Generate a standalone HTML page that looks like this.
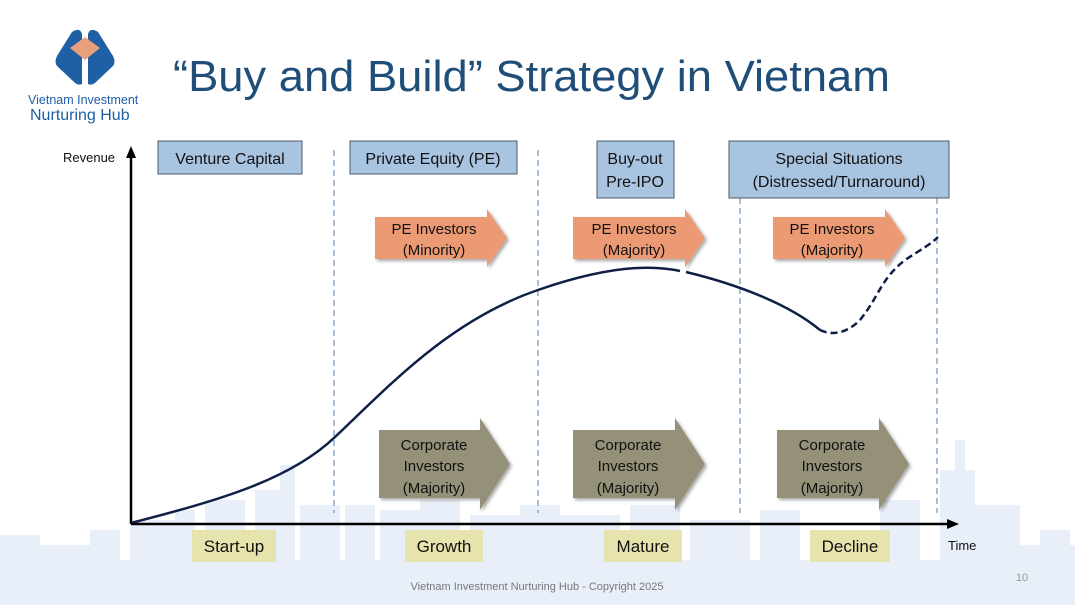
<!DOCTYPE html>
<html><head><meta charset="utf-8"><style>
body{margin:0;width:1075px;height:605px;overflow:hidden;background:#fff;font-family:"Liberation Sans",sans-serif}
svg text{font-family:"Liberation Sans",sans-serif}
</style></head><body>
<svg width="1075" height="605" viewBox="0 0 1075 605" xmlns="http://www.w3.org/2000/svg">
<defs>
<filter id="sh" x="-10%" y="-10%" width="130%" height="130%"><feDropShadow dx="2" dy="2" stdDeviation="1.5" flood-color="#000" flood-opacity="0.35"/></filter>
</defs>
<!-- skyline -->
<g fill="#e8eff8">
<rect x="0" y="560" width="1075" height="45"/>
<rect x="0" y="535" width="40" height="30"/><rect x="40" y="545" width="50" height="20"/>
<rect x="90" y="530" width="30" height="35"/><rect x="130" y="520" width="45" height="45"/>
<rect x="175" y="510" width="20" height="55"/><rect x="205" y="500" width="40" height="65"/>
<rect x="255" y="490" width="35" height="75"/><rect x="280" y="465" width="15" height="100"/>
<rect x="300" y="505" width="40" height="60"/><rect x="345" y="505" width="30" height="60"/>
<rect x="380" y="510" width="40" height="55"/><rect x="420" y="500" width="40" height="65"/>
<rect x="470" y="515" width="50" height="50"/><rect x="520" y="505" width="40" height="60"/>
<rect x="560" y="515" width="60" height="50"/><rect x="630" y="505" width="50" height="60"/>
<rect x="690" y="520" width="60" height="45"/><rect x="760" y="510" width="40" height="55"/>
<rect x="880" y="500" width="40" height="65"/><rect x="940" y="470" width="35" height="95"/>
<rect x="955" y="440" width="10" height="40"/><rect x="975" y="505" width="45" height="60"/>
<rect x="1020" y="545" width="55" height="20"/><rect x="1040" y="530" width="30" height="35"/>
</g>
<!-- logo -->
<g>
<path d="M72 32 Q80 27 82 34 L82 84 Q78 86 74 82 L57 66 Q54 62 57 56 Z" fill="#1f5fa5"/>
<path d="M98 32 Q90 27 88 34 L88 84 Q92 86 96 82 L113 66 Q116 62 113 56 Z" fill="#1f5fa5"/>
<path d="M70 48 L85 37 L100 48 L85 60 Z" fill="#e8a07a"/>
</g>
<text x="28" y="104" font-size="12.5" fill="#1f5fa5">Vietnam Investment</text>
<text x="30" y="120" font-size="16" fill="#1f5fa5">Nurturing Hub</text>
<!-- title -->
<text x="173" y="91" font-size="44" fill="#1f4e79" textLength="717" lengthAdjust="spacingAndGlyphs">“Buy and Build” Strategy in Vietnam</text>
<!-- dashed lines -->
<g stroke="#7a9cc6" stroke-width="1.3" stroke-dasharray="6,4">
<line x1="334" y1="150" x2="334" y2="513"/>
<line x1="538" y1="150" x2="538" y2="513"/>
<line x1="740" y1="198" x2="740" y2="513"/>
<line x1="937" y1="198" x2="937" y2="513"/>
</g>
<!-- top boxes -->
<g fill="#a9c4e0" stroke="#4a5a6a" stroke-width="1">
<rect x="158" y="141" width="144" height="33"/>
<rect x="350" y="141" width="167" height="33"/>
<rect x="597" y="141" width="77" height="57"/>
<rect x="729" y="141" width="220" height="57"/>
</g>
<g font-size="16" fill="#111" text-anchor="middle">
<text x="230" y="164">Venture Capital</text>
<text x="433" y="164">Private Equity (PE)</text>
<text x="635" y="164">Buy-out</text><text x="635" y="187">Pre-IPO</text>
<text x="839" y="164">Special Situations</text><text x="839" y="187">(Distressed/Turnaround)</text>
</g>
<!-- PE arrows -->
<g fill="#ec9a73" filter="url(#sh)">
<path d="M375 217 H487 V209 L507 238 L487 267 V259 H375 Z"/>
<path d="M573 217 H685 V209 L705 238 L685 267 V259 H573 Z"/>
<path d="M773 217 H885 V209 L905 238 L885 267 V259 H773 Z"/>
</g>
<g font-size="15" fill="#111" text-anchor="middle">
<text x="434" y="234">PE Investors</text><text x="434" y="255">(Minority)</text>
<text x="634" y="234">PE Investors</text><text x="634" y="255">(Majority)</text>
<text x="832" y="234">PE Investors</text><text x="832" y="255">(Majority)</text>
</g>
<!-- corp arrows -->
<g fill="#959078" filter="url(#sh)">
<path d="M379 430 H480 V418 L510 464 L480 510 V498 H379 Z"/>
<path d="M573 430 H675 V418 L705 464 L675 510 V498 H573 Z"/>
<path d="M777 430 H879 V418 L909 464 L879 510 V498 H777 Z"/>
</g>
<g font-size="15" fill="#111" text-anchor="middle">
<text x="434" y="450">Corporate</text><text x="434" y="471">Investors</text><text x="434" y="493">(Majority)</text>
<text x="628" y="450">Corporate</text><text x="628" y="471">Investors</text><text x="628" y="493">(Majority)</text>
<text x="832" y="450">Corporate</text><text x="832" y="471">Investors</text><text x="832" y="493">(Majority)</text>
</g>
<!-- curve -->
<path d="M131 523 C220 500 290 480 335 437 C390 385 450 320 538 290 C590 272 640 262 680 271" fill="none" stroke="#0f1f45" stroke-width="2.5"/>
<path d="M686 272 C740 285 790 305 820 330" fill="none" stroke="#0f1f45" stroke-width="2.5"/>
<path d="M820 330 C830 335 845 335 860 320 C880 295 880 280 905 260 C920 250 930 245 938 237" fill="none" stroke="#0f1f45" stroke-width="2.5" stroke-dasharray="7,4"/>
<!-- axes -->
<line x1="131" y1="524" x2="131" y2="155" stroke="#000" stroke-width="2.5"/>
<path d="M126 158 L131 146 L136 158 Z" fill="#000"/>
<line x1="131" y1="524" x2="950" y2="524" stroke="#000" stroke-width="2.5"/>
<path d="M947 519 L959 524 L947 529 Z" fill="#000"/>
<text x="63" y="162" font-size="13" fill="#111">Revenue</text>
<text x="948" y="550" font-size="13" fill="#111">Time</text>
<!-- stage labels -->
<g fill="#e6e3ad">
<rect x="192" y="530" width="84" height="32"/>
<rect x="405" y="530" width="78" height="32"/>
<rect x="604" y="530" width="78" height="32"/>
<rect x="810" y="530" width="80" height="32"/>
</g>
<g font-size="17" fill="#111" text-anchor="middle">
<text x="234" y="552">Start-up</text>
<text x="444" y="552">Growth</text>
<text x="643" y="552">Mature</text>
<text x="850" y="552">Decline</text>
</g>
<text x="537" y="590" font-size="11" fill="#777" text-anchor="middle">Vietnam Investment Nurturing Hub - Copyright 2025</text>
<text x="1022" y="581" font-size="11" fill="#999" text-anchor="middle">10</text>
</svg>
</body></html>
